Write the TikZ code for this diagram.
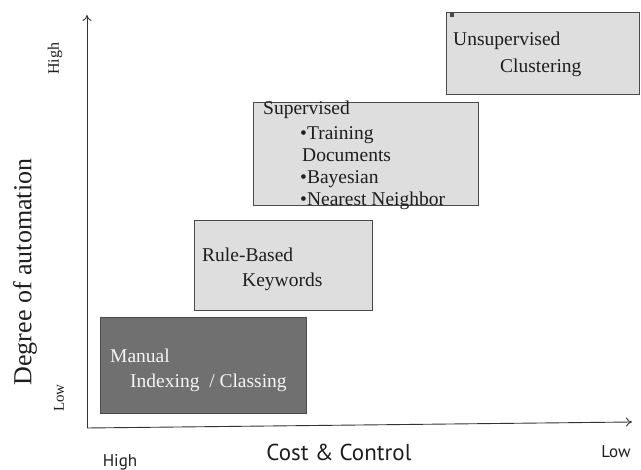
\documentclass[tikz,border=0pt]{standalone}
\usepackage{fontspec}
\setmainfont{Liberation Serif}
\newfontfamily\axisfont{PT Sans}
\usetikzlibrary{arrows.meta}

\definecolor{axisgray}{HTML}{333333}
\definecolor{edgegray}{HTML}{4A4A4A}
\definecolor{lightfill}{HTML}{DEDEDE}
\definecolor{darkfill}{HTML}{707070}
\definecolor{inktext}{HTML}{1E1E1E}

\tikzset{
  stage/.style={draw=edgegray, line width=1pt, fill=lightfill},
  darkstage/.style={draw=edgegray, line width=1pt, fill=darkfill},
  boxtext/.style={anchor=base west, inner sep=0pt, font=\fontsize{19.5}{24}\selectfont, text=inktext},
  darktext/.style={boxtext, text=white!96!black},
  axisline/.style={draw=axisgray, line width=0.9pt, -{To[length=6pt,width=9pt]}},
  serifaxis/.style={inner sep=0pt, rotate=90, text=inktext},
  sansaxis/.style={inner sep=0pt, text=inktext}
}

\begin{document}
\begin{tikzpicture}[x=1pt, y=-1pt]
  \useasboundingbox (0,0) rectangle (641,470);

  % axes
  \coordinate (origin) at (87,428);
  \coordinate (ytop) at (87,15);
  \coordinate (xend) at (632,422);
  \draw[axisline] (origin) -- (ytop);
  \draw[axisline] (origin) -- (xend);

  % vertical axis labels
  \node[serifaxis, font=\fontsize{16}{16}\selectfont] (yhigh) at (55,59) {High};
  \node[serifaxis, font=\fontsize{15}{15}\selectfont] (ylow) at (59,398) {Low};
  \node[serifaxis, font=\fontsize{26}{26}\selectfont] (ytitle) at (25,272) {Degree of automation};

  % horizontal axis labels
  \node[sansaxis, font=\axisfont\fontsize{17}{17}\selectfont] (xhigh) at (120,462) {High};
  \node[sansaxis, font=\axisfont\fontsize{23}{23}\selectfont] (xtitle) at (339,452) {Cost \& Control};
  \node[sansaxis, font=\axisfont\fontsize{17}{17}\selectfont] (xlow) at (616,452) {Low};

  % stages
  \path[darkstage] (100,318) rectangle (306,414);
  \node[darktext] (manual) at (110,363) {Manual};
  \node[darktext] (indexing) at (130,388) {Indexing\ \ / Classing};

  \path[stage] (194,221) rectangle (372,311);
  \node[boxtext] (rule) at (202,262) {Rule-Based};
  \node[boxtext] (keywords) at (242,287) {Keywords};

  \path[stage] (253,103) rectangle (478,206);
  \node[boxtext] (supervised) at (263,115) {Supervised};
  \node[boxtext] (training) at (300,140) {\textbullet Training};
  \node[boxtext] (documents) at (302,162) {Documents};
  \node[boxtext] (bayesian) at (300,184) {\textbullet Bayesian};
  \node[boxtext] (nearest) at (300,206) {\textbullet Nearest Neighbor};

  \path[stage] (446,13) rectangle (639,95);
  \fill[edgegray] (450,13) rectangle (454,17);
  \node[boxtext] (unsupervised) at (453,46) {Unsupervised};
  \node[boxtext] (clustering) at (500,73) {Clustering};
\end{tikzpicture}
\end{document}
